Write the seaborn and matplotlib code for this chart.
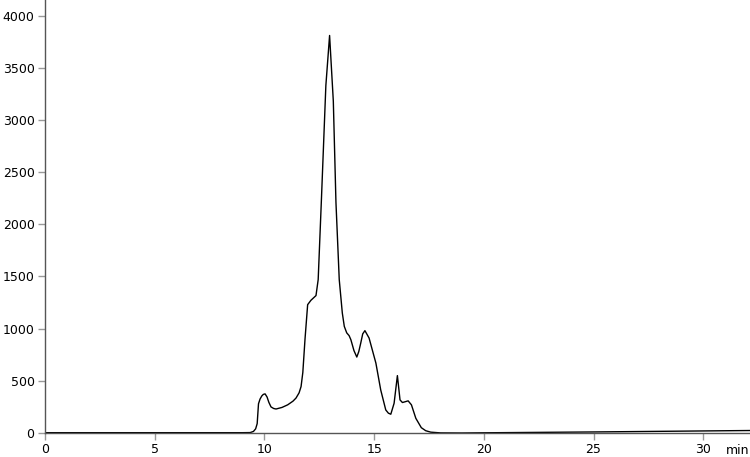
import pandas as pd
import matplotlib
matplotlib.use("Agg")
import matplotlib.pyplot as plt
import seaborn as sns

# ---------------- Data ----------------

time_min = [0, 9.0, 9.35, 9.5, 9.6, 9.67, 9.73, 9.8, 9.88, 9.95, 10.03, 10.12, 10.2, 10.3,
            10.42, 10.53, 10.8, 11.06, 11.3, 11.44, 11.58, 11.67, 11.75, 11.85, 11.97,
            12.12, 12.35, 12.45, 12.6, 12.8, 12.97, 13.14, 13.26, 13.41, 13.55, 13.64,
            13.75, 13.86, 13.94, 14.08, 14.21, 14.3, 14.39, 14.48, 14.58, 14.77, 15.08,
            15.3, 15.53, 15.65, 15.76, 15.91, 16.06, 16.18, 16.29, 16.55, 16.7, 16.9,
            17.15, 17.35, 17.58, 18.03, 19.0, 20.0, 25.0, 32.2]

signal = [3, 3, 4, 15, 40, 90, 280, 325, 355, 370, 375, 345, 295, 250,
          235, 230, 245, 270, 305, 335, 385, 445, 580, 900, 1230,
          1272, 1317, 1470, 2250, 3330, 3810, 3180, 2210, 1470, 1150, 1022,
          960, 933, 894, 790, 728, 780, 862, 950, 981, 910, 670,
          413, 221, 190, 180, 285, 550, 317, 292, 308, 270, 141,
          51, 22, 8, 1, 0, 2, 10, 24]

x_ticks = [0, 5, 10, 15, 20, 25, 30]
y_ticks = [0, 500, 1000, 1500, 2000, 2500, 3000, 3500, 4000]

df = pd.DataFrame({"Time": time_min, "Signal": signal})

# ---------------- Plot ----------------

sns.set_style("ticks")
plt.rcParams["font.family"] = ["DejaVu Sans"]

fig = plt.figure(figsize=(7.5, 4.57), dpi=100)
ax = fig.add_axes([45 / 750, 24 / 457, 705 / 750, 433 / 457])

sns.lineplot(data=df, x="Time", y="Signal", color="black", linewidth=1.0, ax=ax)

ax.set_xlim(0, 32.13)
ax.set_ylim(0, 4150)
ax.set_xticks(x_ticks)
ax.set_yticks(y_ticks)
ax.set_xlabel("")
ax.set_ylabel("")

sns.despine(ax=ax)
for side in ["left", "bottom"]:
    ax.spines[side].set_color("#555555")
    ax.spines[side].set_linewidth(1.0)

ax.tick_params(axis="both", colors="#999999", labelcolor="black",
               labelsize=9, length=5, width=1, pad=2.5)

ax.text(31.56, -0.04, "min", transform=ax.get_xaxis_transform(),
        ha="center", va="center", fontsize=9, color="black")

plt.savefig("out.png", dpi=100)
